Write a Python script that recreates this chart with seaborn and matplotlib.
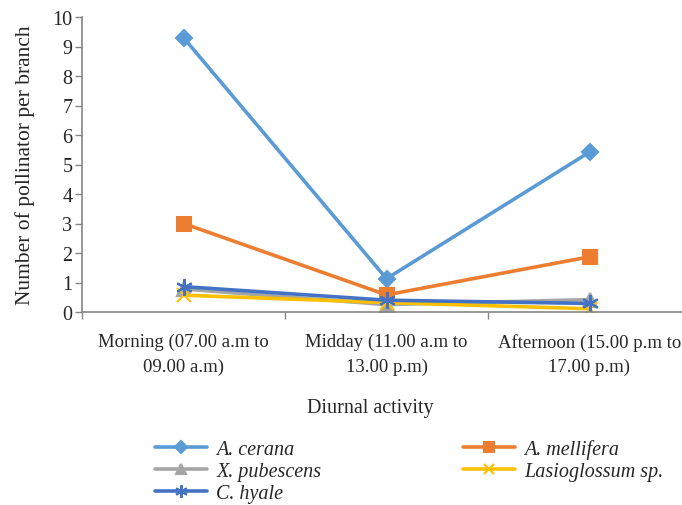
import pandas as pd
import matplotlib
matplotlib.use("Agg")
import matplotlib.pyplot as plt
import seaborn as sns

periods = ["Morning (07.00 a.m to\n09.00 a.m)",
           "Midday (11.00 a.m to\n13.00 p.m)",
           "Afternoon (15.00 p.m to\n17.00 p.m)"]
species = ["A. cerana", "A. mellifera", "X. pubescens", "Lasioglossum sp.", "C. hyale"]
a_cerana = [9.3, 1.13, 5.42]
a_mellifera = [3.0, 0.58, 1.87]
x_pubescens = [0.78, 0.25, 0.42]
lasioglossum = [0.57, 0.32, 0.11]
c_hyale = [0.86, 0.40, 0.29]

colors = {"A. cerana": "#5B9BD5", "A. mellifera": "#ED7D31", "X. pubescens": "#A5A5A5",
          "Lasioglossum sp.": "#FFC000", "C. hyale": "#4472C4"}
markers = {"A. cerana": "D", "A. mellifera": "s", "X. pubescens": "^",
           "Lasioglossum sp.": "x", "C. hyale": (6, 2, 0)}
msize = {"A. cerana": 8, "A. mellifera": 10, "X. pubescens": 10,
         "Lasioglossum sp.": 10, "C. hyale": 12}

rows = []
for name, vals in zip(species, [a_cerana, a_mellifera, x_pubescens, lasioglossum, c_hyale]):
    for i, v in enumerate(vals):
        rows.append({"pos": i, "value": v, "species": name})
df = pd.DataFrame(rows)

sns.set_style("white")
plt.rcParams["font.family"] = ["Liberation Serif", "DejaVu Serif"]

fig = plt.figure(figsize=(6.82, 5.06), dpi=100)
ax = fig.add_axes([82 / 682, 1 - 313 / 506, 609 / 682, 295 / 506])

for name in species:
    sub = df[df["species"] == name]
    sns.lineplot(data=sub, x="pos", y="value", ax=ax, color=colors[name],
                 marker=markers[name], markersize=msize[name], linewidth=2.6,
                 markeredgecolor=colors[name], markeredgewidth=1.5, label=name)

ax.set_xlim(-0.5, 2.5)
ax.set_ylim(0, 10)
ax.set_yticks(range(0, 11))
ax.set_xticks(range(len(periods)))
ax.set_xticklabels(periods, fontsize=13.5, linespacing=1.55)
ax.set_xticks([-0.5, 0.5, 1.5, 2.5], minor=True)
ax.tick_params(axis="x", which="major", length=0, pad=15)
ax.tick_params(axis="x", which="minor", length=5, color="#868686", width=1, direction="out", bottom=True)
ax.tick_params(axis="y", length=5, color="#868686", width=1, direction="out", left=True, labelsize=14.5, pad=2)
for s in ["top", "right"]:
    ax.spines[s].set_visible(False)
for s in ["left", "bottom"]:
    ax.spines[s].set_color("#868686")
    ax.spines[s].set_linewidth(1.2)
ax.set_xlabel("Diurnal activity", fontsize=14.5)
ax.xaxis.set_label_coords((370 - 82) / 609, -0.29)
ax.set_ylabel("Number of pollinator per branch", fontsize=15.5)
ax.yaxis.set_label_coords(-0.077, 0.5)

handles, labels = ax.get_legend_handles_labels()
order = [0, 2, 4, 1, 3]
ax.legend([handles[i] for i in order], [labels[i] for i in order], ncol=2,
          loc="upper left", bbox_to_anchor=(155 / 682, 1 - 440 / 506),
          bbox_transform=fig.transFigure, frameon=False, handlelength=2.6,
          columnspacing=7.0, labelspacing=0.15, handletextpad=0.45, markerscale=0.75,
          borderpad=0, borderaxespad=0,
          prop={"family": "Liberation Serif", "style": "italic", "size": 14.5})

fig.savefig("out.png", dpi=100)
